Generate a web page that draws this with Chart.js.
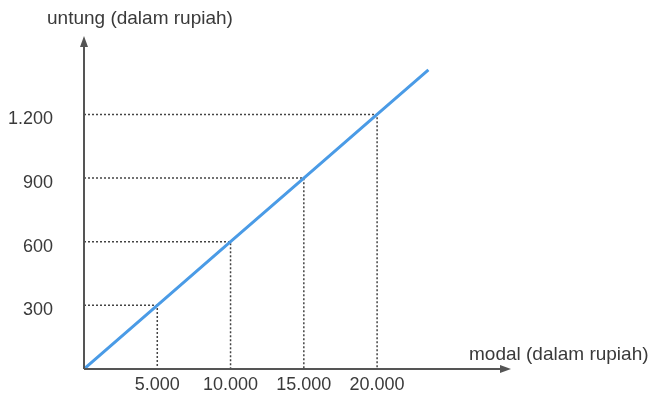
<!DOCTYPE html>
<html>
<head>
<meta charset="utf-8">
<script src="https://cdn.jsdelivr.net/npm/chart.js@4"></script>
<style>
  html, body { margin: 0; padding: 0; background: #fff; }
  #wrap { width: 650px; height: 398px; }
</style>
</head>
<body>
<div id="wrap"><canvas id="labaChart"></canvas></div>
<script>
// data
const modal = [0, 5000, 10000, 15000, 20000, 23500];
const untung = [0, 300, 600, 900, 1200, 1410];
const guidePoints = [1, 2, 3, 4]; // indexes that get dotted guides
const xTicks = [5000, 10000, 15000, 20000];
const yTicks = [300, 600, 900, 1200];

const xMax = 29000;
const yMax = 1560;
const textColor = "#3a3a3a";
const axisColor = "#555";
const fontFam = "'Liberation Sans', Arial, sans-serif";

// thousands with a dot, like the book
const fmt = v => String(v).replace(/\B(?=(\d{3})+(?!\d))/g, ".");

const guides = guidePoints.map(i => ({
  data: [{ x: 0, y: untung[i] }, { x: modal[i], y: untung[i] }, { x: modal[i], y: 0 }],
  borderColor: "#444",
  borderWidth: 1.5,
  borderDash: [2, 2],
  pointRadius: 0,
  fill: false,
  tension: 0
}));

// axes with arrowheads + axis titles
const axesPlugin = {
  id: "axesArrows",
  afterDatasetsDraw(chart) {
    const { ctx, chartArea: a } = chart;
    ctx.save();
    ctx.strokeStyle = axisColor;
    ctx.fillStyle = axisColor;
    ctx.lineWidth = 2;
    ctx.beginPath();
    ctx.moveTo(a.left, a.bottom);
    ctx.lineTo(a.left, a.top + 4);
    ctx.moveTo(a.left, a.bottom);
    ctx.lineTo(a.right - 4, a.bottom);
    ctx.stroke();
    // arrow up
    ctx.beginPath();
    ctx.moveTo(a.left, a.top - 2);
    ctx.lineTo(a.left - 4, a.top + 9);
    ctx.lineTo(a.left + 4, a.top + 9);
    ctx.closePath();
    ctx.fill();
    // arrow right
    ctx.beginPath();
    ctx.moveTo(a.right + 2, a.bottom);
    ctx.lineTo(a.right - 9, a.bottom - 4);
    ctx.lineTo(a.right - 9, a.bottom + 4);
    ctx.closePath();
    ctx.fill();

    ctx.fillStyle = textColor;
    ctx.font = "19px " + fontFam;
    ctx.textBaseline = "middle";
    ctx.textAlign = "left";
    ctx.fillText("untung (dalam rupiah)", 47, 19);
    ctx.fillText("modal (dalam rupiah)", 469, 355);
    ctx.restore();
  }
};

new Chart(document.getElementById("labaChart"), {
  type: "line",
  data: {
    datasets: [
      {
        data: modal.map((m, i) => ({ x: m, y: untung[i] })),
        borderColor: "#4a9be6",
        borderWidth: 3,
        pointRadius: 0,
        fill: false,
        tension: 0
      },
      ...guides
    ]
  },
  options: {
    responsive: true,
    maintainAspectRatio: false,
    animation: false,
    layout: { padding: { left: 0, top: 38, right: 141, bottom: 0 } },
    plugins: { legend: { display: false }, tooltip: { enabled: false } },
    scales: {
      x: {
        type: "linear",
        min: 0,
        max: xMax,
        grid: { display: true, drawOnChartArea: false, color: "rgba(0,0,0,0)", tickLength: 0 },
        border: { display: false },
        afterBuildTicks: s => { s.ticks = xTicks.map(v => ({ value: v })); },
        afterFit: s => { s.height = 29; },
        ticks: {
          padding: 5,
          color: textColor,
          font: { family: fontFam, size: 18 },
          callback: v => fmt(v),
          maxRotation: 0
        }
      },
      y: {
        type: "linear",
        min: 0,
        max: yMax,
        grid: { display: true, drawOnChartArea: false, color: "rgba(0,0,0,0)", tickLength: 31 },
        border: { display: false },
        afterBuildTicks: s => { s.ticks = yTicks.map(v => ({ value: v })); },
        afterFit: s => { s.width = 84; },
        ticks: {
          padding: 0,
          labelOffset: 5,
          color: textColor,
          font: { family: fontFam, size: 18 },
          callback: v => fmt(v)
        }
      }
    }
  },
  plugins: [axesPlugin]
});
</script>
</body>
</html>
